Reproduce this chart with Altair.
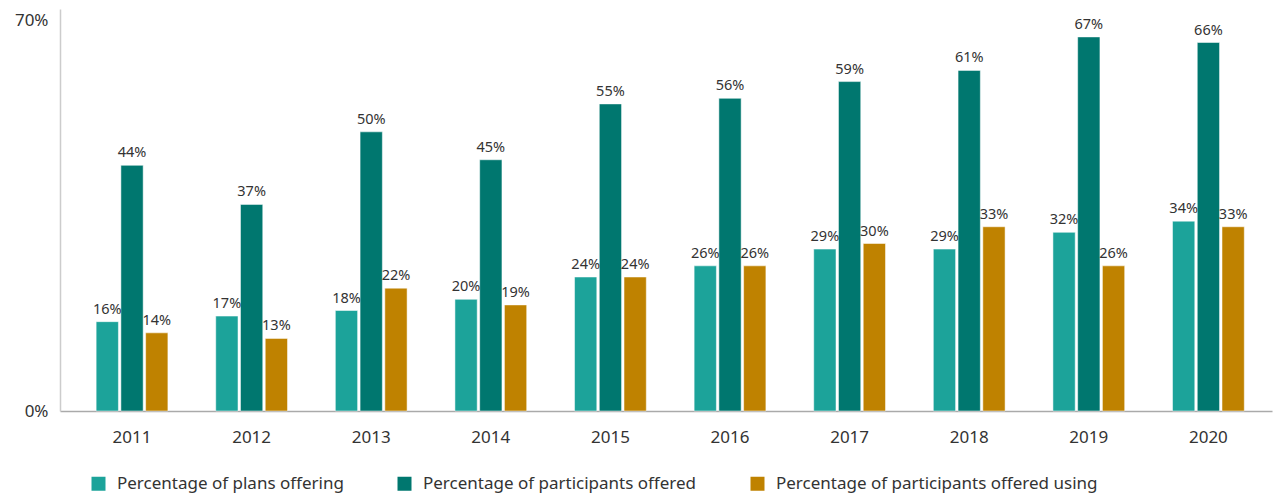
import altair as alt
import pandas as pd

years = ["2011", "2012", "2013", "2014", "2015", "2016", "2017", "2018", "2019", "2020"]
series = ["Percentage of plans offering", "Percentage of participants offered", "Percentage of participants offered using"]
plans = [16, 17, 18, 20, 24, 26, 29, 29, 32, 34]
participants = [44, 37, 50, 45, 55, 56, 59, 61, 67, 66]
using = [14, 13, 22, 19, 24, 26, 30, 33, 26, 33]
colors = ["#1CA39A", "#00776F", "#BF8200"]

rows = []
for vals, s in zip([plans, participants, using], series):
    for y, v in zip(years, vals):
        rows.append({"year": y, "series": s, "value": v, "lbl": f"{v}%"})
df = pd.DataFrame(rows)

FONT = "Noto Sans"

x = alt.X("year:N", title=None, sort=years,
          scale=alt.Scale(paddingInner=0.4, paddingOuter=0.267, align=0.566),
          axis=alt.Axis(labelAngle=0, labelFontSize=17, labelColor="#333333", labelFont=FONT,
                        ticks=False, labelPadding=18, domainColor="#aaaaaa", domainWidth=1.5))
xo = alt.XOffset("series:N", sort=series, scale=alt.Scale(paddingInner=0.1, paddingOuter=0))
y = alt.Y("value:Q", title=None, scale=alt.Scale(domain=[0, 72], nice=False),
          axis=alt.Axis(values=[0, 70], labelExpr="datum.value + '%'", grid=False, ticks=False,
                        labelFontSize=17, labelColor="#333333", labelFont=FONT, labelPadding=12,
                        domainColor="#cccccc", domainWidth=1.5))

base = alt.Chart(df)
bars = base.mark_bar(stroke="white", strokeWidth=0.5).encode(
    x=x, xOffset=xo, y=y,
    color=alt.Color("series:N", sort=series,
                    scale=alt.Scale(domain=series, range=colors),
                    legend=alt.Legend(title=None, orient="none", legendX=30, legendY=466,
                                      direction="horizontal", symbolType="square", symbolSize=196,
                                      symbolStrokeWidth=0, labelFontSize=17, labelFont=FONT,
                                      labelColor="#333333", columnPadding=52, labelOffset=10,
                                      labelLimit=0)),
)
labels = base.mark_text(baseline="bottom", dy=-5, fontSize=14.5, font=FONT, color="#333333").encode(
    x=x, xOffset=xo, y=y, text="lbl:N", detail="series:N"
)

chart = alt.layer(bars, labels).properties(
    width=1212, height=402,
    autosize=alt.AutoSizeParams(type="none"),
    padding={"left": 52, "top": 1, "right": 1, "bottom": 84},
).configure(font=FONT).configure_view(stroke="transparent", strokeWidth=0)

chart.save("out.html", embed_options={"renderer": "svg", "actions": False})
